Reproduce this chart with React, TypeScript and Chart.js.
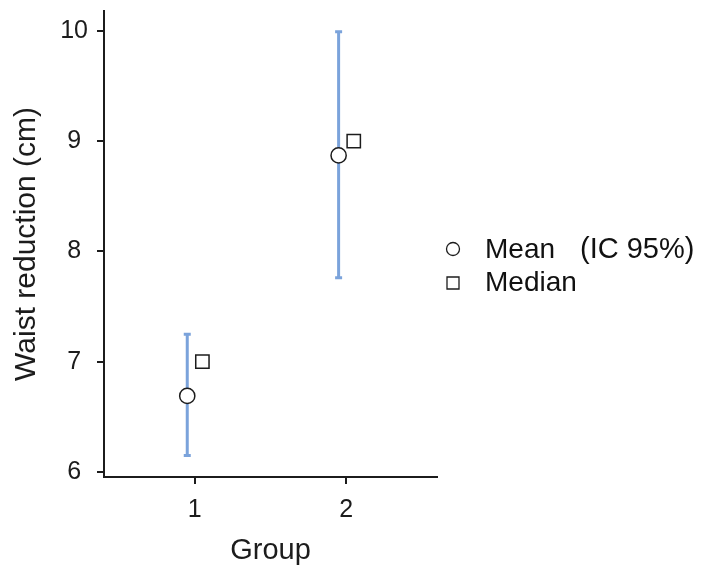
import React, { useEffect, useRef } from 'react';
import { Chart, registerables } from 'chart.js';

Chart.register(...registerables);

// ---- data ----
const groups = [1, 2];
const groupLabels = ['1', '2'];
const meanValues = [6.69, 8.87];
const ciLower = [6.15, 7.76];
const ciUpper = [7.25, 9.99];
const medianValues = [7.0, 9.0];
const yTicks = [6, 7, 8, 9, 10];
const legendMean = 'Mean';
const legendCi = '(IC 95%)';
const legendMedian = 'Median';
const xTitle = 'Group';
const yTitle = 'Waist reduction (cm)';

// ---- style ----
const FONT = '"Liberation Sans", Arial, Helvetica, sans-serif';
const BAR_COLOR = '#7BA3DB';
const INK = '#1c1c1c';
const DODGE = 0.05;

export default function App() {
  const ref = useRef<HTMLCanvasElement>(null);

  useEffect(() => {
    const canvas = ref.current!;

    const errorBars = {
      id: 'errorBars',
      beforeDatasetsDraw(chart: any) {
        const { ctx, scales } = chart;
        const x = scales.x;
        const y = scales.y;
        ctx.save();
        ctx.strokeStyle = BAR_COLOR;
        ctx.lineWidth = 3;
        groups.forEach((g, i) => {
          const px = x.getPixelForValue(g - DODGE);
          const lo = y.getPixelForValue(ciLower[i]);
          const hi = y.getPixelForValue(ciUpper[i]);
          ctx.beginPath();
          ctx.moveTo(px, lo);
          ctx.lineTo(px, hi);
          ctx.moveTo(px - 3.5, lo);
          ctx.lineTo(px + 3.5, lo);
          ctx.moveTo(px - 3.5, hi);
          ctx.lineTo(px + 3.5, hi);
          ctx.stroke();
        });
        ctx.restore();
      },
    };

    const customLegend = {
      id: 'customLegend',
      afterDraw(chart: any) {
        const { ctx, chartArea } = chart;
        const mx = chartArea.right + 16;
        const textX = chartArea.right + 48;
        const row1 = 249;
        const row2 = 283;
        ctx.save();
        ctx.strokeStyle = INK;
        ctx.fillStyle = '#ffffff';
        ctx.lineWidth = 1.3;
        ctx.beginPath();
        ctx.arc(mx, row1, 6.5, 0, Math.PI * 2);
        ctx.fill();
        ctx.stroke();
        ctx.beginPath();
        ctx.rect(mx - 6, row2 - 6, 12, 12);
        ctx.fill();
        ctx.stroke();
        ctx.fillStyle = '#111111';
        ctx.font = `28px ${FONT}`;
        ctx.textBaseline = 'alphabetic';
        ctx.textAlign = 'left';
        ctx.fillText(legendMean, textX, row1 + 9);
        ctx.font = `29px ${FONT}`;
        ctx.fillText(legendCi, chartArea.right + 143, row1 + 9);
        ctx.font = `28px ${FONT}`;
        ctx.fillText(legendMedian, textX, row2 + 8);
        ctx.restore();
      },
    };

    const chart = new Chart(canvas, {
      type: 'scatter',
      data: {
        datasets: [
          {
            label: legendMean,
            data: groups.map((g, i) => ({ x: g - DODGE, y: meanValues[i] })),
            pointStyle: 'circle',
            pointRadius: 7.6,
            backgroundColor: '#ffffff',
            borderColor: INK,
            borderWidth: 1.5,
          },
          {
            label: legendMedian,
            data: groups.map((g, i) => ({ x: g + DODGE, y: medianValues[i] })),
            pointStyle: 'rect',
            pointRadius: 9.4,
            backgroundColor: '#ffffff',
            borderColor: INK,
            borderWidth: 1.5,
          },
        ],
      },
      options: {
        responsive: false,
        animation: false,
        devicePixelRatio: 1,
        layout: { padding: { top: 9, right: 265, left: 0, bottom: 0 } },
        plugins: {
          legend: { display: false },
          tooltip: { enabled: false },
        },
        scales: {
          x: {
            type: 'linear',
            min: 0.4,
            max: 2.6,
            afterBuildTicks: (s: any) => {
              s.ticks = groups.map((v) => ({ value: v }));
            },
            afterFit: (s: any) => {
              s.height = 93;
              s.paddingLeft = 0;
              s.paddingRight = 0;
            },
            ticks: {
              callback: (v: any) => {
                const idx = groups.indexOf(Number(v));
                return idx >= 0 ? groupLabels[idx] : '';
              },
              font: { family: FONT, size: 25 },
              color: INK,
              padding: 11,
              maxRotation: 0,
              autoSkip: false,
            },
            grid: {
              drawOnChartArea: false,
              drawTicks: true,
              tickLength: 7,
              color: INK,
              lineWidth: 2,
            },
            border: { display: true, color: INK, width: 2 },
            title: {
              display: true,
              text: xTitle,
              font: { family: FONT, size: 29 },
              color: INK,
              padding: { top: 0, bottom: 2 },
            },
          },
          y: {
            type: 'linear',
            min: 5.955,
            max: 10.18,
            afterBuildTicks: (s: any) => {
              s.ticks = yTicks.map((v) => ({ value: v }));
            },
            afterFit: (s: any) => {
              s.width = 104;
              s.paddingTop = 0;
              s.paddingBottom = 0;
            },
            ticks: {
              callback: (v: any) => String(v),
              font: { family: FONT, size: 25 },
              color: INK,
              padding: 9,
              crossAlign: 'center',
              autoSkip: false,
            },
            grid: {
              drawOnChartArea: false,
              drawTicks: true,
              tickLength: 7,
              color: INK,
              lineWidth: 2,
            },
            border: { display: true, color: INK, width: 2 },
            title: {
              display: true,
              text: yTitle,
              font: { family: FONT, size: 30 },
              color: INK,
              padding: { top: 9, bottom: 0 },
            },
          },
        },
      },
      plugins: [errorBars, customLegend],
    } as any);

    return () => chart.destroy();
  }, []);

  return (
    <div
      style={{
        position: 'absolute',
        left: 0,
        top: 0,
        width: 702,
        height: 570,
        background: '#ffffff',
      }}
    >
      <canvas ref={ref} width={702} height={570} style={{ width: 702, height: 570, display: 'block' }} />
    </div>
  );
}
